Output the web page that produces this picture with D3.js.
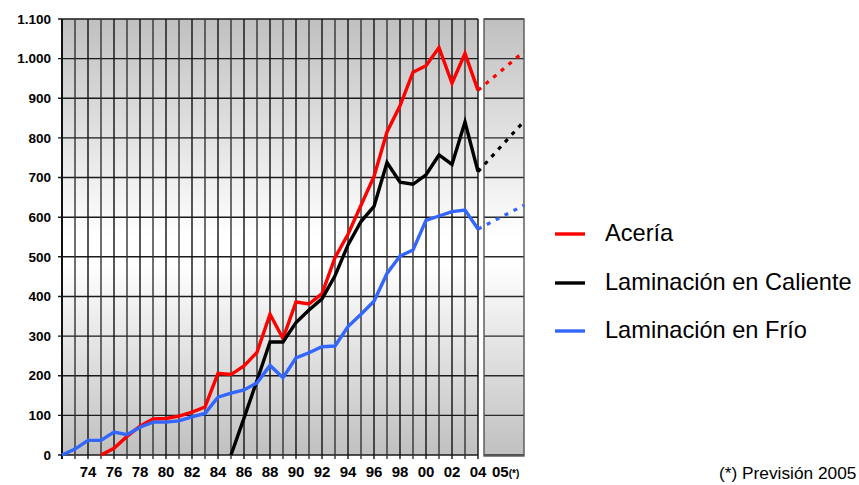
<!DOCTYPE html>
<html><head><meta charset="utf-8">
<script src="https://cdn.jsdelivr.net/npm/d3@7"></script>
<style>
html,body{margin:0;padding:0;background:#fff;}
svg{display:block;font-family:"Liberation Sans",Arial,Helvetica,sans-serif;}
</style></head>
<body>
<svg id="chart" width="859" height="485"></svg>
<script>
// ---- data ----
const years = [1972,1973,1974,1975,1976,1977,1978,1979,1980,1981,1982,1983,1984,1985,1986,1987,1988,1989,1990,1991,1992,1993,1994,1995,1996,1997,1998,1999,2000,2001,2002,2003,2004];
const aceria   = [null,null,null,0,17,47,73,91,92,98,108,121,206,203,225,259,355,294,386,381,407,498,557,630,703,815,881,966,982,1028,938,1013,920];
const caliente = [null,null,null,null,null,null,null,null,null,null,null,null,null,0,93,188,285,285,334,366,394,452,530,589,627,738,688,683,707,757,733,840,715];
const frio     = [0,15,37,37,58,51,70,83,83,86,96,105,146,156,164,182,226,195,245,258,273,275,324,355,388,458,502,517,592,603,614,618,570];
const forecastYear = 2005;
const forecast = {aceria:1018, caliente:842, frio:630};
const seriesNames = ["Acería","Laminación en Caliente","Laminación en Frío"];
const seriesColors = ["#ff0000","#000000","#3366ff"];
const yTickValues = [0,100,200,300,400,500,600,700,800,900,1000,1100];
const yTickLabels = ["0","100","200","300","400","500","600","700","800","900","1.000","1.100"];
const xLabelYears = [1974,1976,1978,1980,1982,1984,1986,1988,1990,1992,1994,1996,1998,2000,2002,2004];
const xTickLabels = ["74","76","78","80","82","84","86","88","90","92","94","96","98","00","02","04"];
const forecastLabel = "05";
const forecastMark = "(*)";
const footnote = "(*) Previsión 2005";

// ---- layout ----
const svg = d3.select("#chart");
const x = d3.scaleLinear().domain([1972,2004]).range([62,478]);
const y = d3.scaleLinear().domain([0,1100]).range([455,19]);
const fLeft = 484, fRight = 524;
const xf = d3.scaleLinear().domain([2004,2005]).range([478,fRight]);

const defs = svg.append("defs");
const grad = defs.append("linearGradient").attr("id","bg").attr("x1",0).attr("y1",0).attr("x2",0).attr("y2",1);
grad.append("stop").attr("offset","0").attr("stop-color","#c0c0c0");
grad.append("stop").attr("offset","0.5").attr("stop-color","#ffffff");
grad.append("stop").attr("offset","0.56").attr("stop-color","#ffffff");
grad.append("stop").attr("offset","1").attr("stop-color","#c0c0c0");

// backgrounds
svg.append("rect").attr("x",x(1972)).attr("y",y(1100)).attr("width",x(2004)-x(1972)).attr("height",y(0)-y(1100)).attr("fill","url(#bg)");
svg.append("rect").attr("x",fLeft).attr("y",y(1100)).attr("width",fRight-fLeft).attr("height",y(0)-y(1100)).attr("fill","url(#bg)");

// horizontal gridlines
const grid = svg.append("g");
grid.selectAll("line.h").data(yTickValues).join("line")
  .attr("x1",x(1972)-4).attr("x2",x(2004)).attr("y1",d=>y(d)).attr("y2",d=>y(d))
  .attr("stroke","#1a1a1a").attr("stroke-width",1.4);
grid.selectAll("line.hf").data(yTickValues).join("line")
  .attr("x1",fLeft).attr("x2",fRight).attr("y1",d=>y(d)).attr("y2",d=>y(d))
  .attr("stroke","#2a2a2a").attr("stroke-width",1.4);
// vertical gridlines with ticks
grid.selectAll("line.v").data(years).join("line")
  .attr("x1",d=>x(d)).attr("x2",d=>x(d)).attr("y1",y(1100)).attr("y2",y(0)+4)
  .attr("stroke",(d,i)=>i%2?"#333":"#111").attr("stroke-width",(d,i)=>i===0?2:1.4);
// forecast panel border
svg.append("rect").attr("x",fLeft).attr("y",y(1100)).attr("width",fRight-fLeft).attr("height",y(0)-y(1100)+1)
  .attr("fill","none").attr("stroke","#555").attr("stroke-width",1.4);

// y labels
svg.append("g").selectAll("text").data(yTickValues).join("text")
  .attr("x",51).attr("y",d=>y(d)).attr("dy","0.35em").attr("text-anchor","end")
  .attr("font-size",13.5).attr("font-weight","bold").attr("fill","#000")
  .text((d,i)=>yTickLabels[i]);
// x labels
svg.append("g").selectAll("text").data(xLabelYears).join("text")
  .attr("x",d=>x(d)).attr("y",477).attr("text-anchor","middle")
  .attr("font-size",15).attr("font-weight","bold").attr("fill","#000")
  .text((d,i)=>xTickLabels[i]);
const fl = svg.append("text").attr("x",fLeft+8).attr("y",477).attr("font-weight","bold").attr("fill","#000");
fl.append("tspan").attr("font-size",15).text(forecastLabel);
fl.append("tspan").attr("font-size",10).text(forecastMark);

// series
const seriesData = [aceria, caliente, frio];
const fVals = [forecast.aceria, forecast.caliente, forecast.frio];
const line = d3.line().defined(d=>d[1]!==null).x(d=>x(d[0])).y(d=>y(d[1]));
seriesData.forEach((s,k)=>{
  const pts = years.map((yr,i)=>[yr,s[i]]);
  svg.append("path").attr("d",line(pts)).attr("fill","none")
    .attr("stroke",seriesColors[k]).attr("stroke-width",3.4).attr("stroke-linejoin","miter");
  const last = s[s.length-1];
  svg.append("path").attr("d",d3.line()([[xf(2004),y(last)],[xf(forecastYear),y(fVals[k])]]))
    .attr("fill","none").attr("stroke",seriesColors[k]).attr("stroke-width",3.2)
    .attr("stroke-dasharray","4,6");
});

// legend
const lg = svg.append("g");
const lgY = [234,283,331];
seriesNames.forEach((n,k)=>{
  lg.append("line").attr("x1",555).attr("x2",585).attr("y1",lgY[k]).attr("y2",lgY[k])
    .attr("stroke",seriesColors[k]).attr("stroke-width",3.4);
  lg.append("text").attr("x",605).attr("y",lgY[k]+7).attr("font-size",23.6).attr("fill","#000").text(n);
});

// footnote
svg.append("text").attr("x",719).attr("y",479).attr("font-size",17.3).attr("fill","#000").text(footnote);
</script>
</body></html>
